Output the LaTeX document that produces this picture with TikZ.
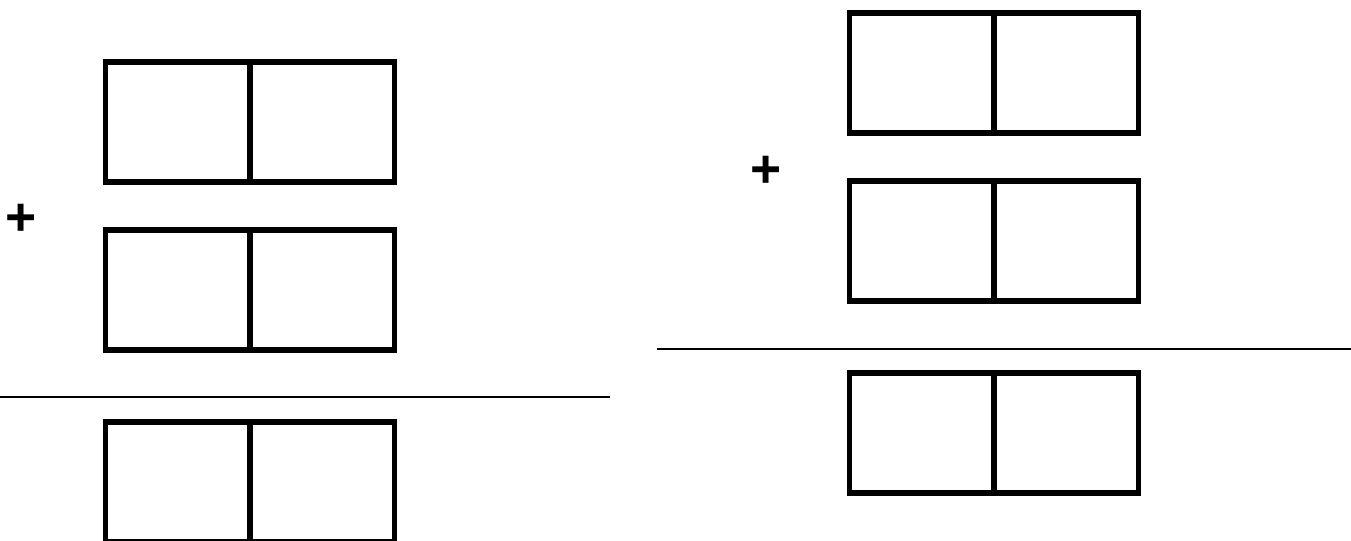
\documentclass[tikz,border=0pt]{standalone}
\usepackage{fontspec}
\setmainfont{Liberation Sans}
\usetikzlibrary{positioning}

\begin{document}
\begin{tikzpicture}[
    x=0.75pt, y=-0.75pt,
    domino/.style = {
      rectangle, draw=black, line width=4.3pt,
      minimum width=216.75pt, minimum height=90pt,
      inner sep=0pt, outer sep=0pt
    },
    divider/.style = {line width=4.3pt, line cap=butt},
    sumrule/.style = {line width=1.6pt},
    plus/.style    = {font=\fontsize{40}{40}\selectfont\bfseries, inner sep=0pt}
  ]
  \useasboundingbox (0,0) rectangle (1351,541);
  \clip (0,0) rectangle (1351,541);

  % Left sum — x=250
  \node[domino] at (250, 122)   (la) {};
  \node[domino] at (250, 289.7) (lb) {};
  \node[domino] at (250, 482)   (lc) {};
  \node[plus]   at (21, 220)    (lplus) {+};
  \coordinate (lrule0) at (0, 397.3);
  \coordinate (lrule1) at (610, 397.3);

  % Right sum — x=994
  \node[domino] at (994, 73)    (ra) {};
  \node[domino] at (994, 241)   (rb) {};
  \node[domino] at (994, 433.2) (rc) {};
  \node[plus]   at (766, 172)   (rplus) {+};
  \coordinate (rrule0) at (657, 349.3);
  \coordinate (rrule1) at (1351, 349.3);

  % Dividers
  \foreach \d in {la, lb, lc, ra, rb, rc}
    \draw[divider] (\d.north) -- (\d.south);

  % Rules
  \draw[sumrule] (lrule0) -- (lrule1);
  \draw[sumrule] (rrule0) -- (rrule1);
\end{tikzpicture}
\end{document}
